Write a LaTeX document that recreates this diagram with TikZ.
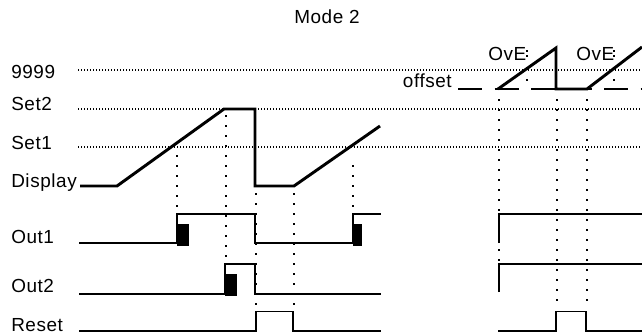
\documentclass[tikz,border=0pt]{standalone}
\usepackage{fontspec}
\setmainfont{Liberation Sans}
\newfontfamily\lblfont[LetterSpace=3]{Liberation Sans}
\begin{document}
\begin{tikzpicture}[x=0.75pt,y=-0.75pt,
  lbl/.style={inner sep=0pt,anchor=base west,font=\lblfont\fontsize{14.2pt}{16pt}\selectfont},
  hdot/.style={line width=0.85pt,dash pattern=on 0.85pt off 1.4pt},
  vdot/.style={line width=1.5pt,dash pattern=on 1.5pt off 6pt},
  disp/.style={line width=2.2pt,line join=miter,line cap=butt},
  sig/.style={line width=0.8pt},
  blk/.style={fill=black,draw=none},
  offdash/.style={line width=0.9pt,dash pattern=on 18pt off 9.4pt}]
\useasboundingbox (0,0) rectangle (642,335);
% labels
\node[lbl,anchor=base] (title) at (327,24) {Mode 2};
\node[lbl] (l9999) at (11,79) {9999};
\node[lbl] (lset2) at (11,110) {Set2};
\node[lbl] (lset1) at (11,149) {Set1};
\node[lbl] (ldisp) at (11,187) {Display};
\node[lbl] (lout1) at (11,243) {Out1};
\node[lbl] (lout2) at (11,292) {Out2};
\node[lbl] (lreset) at (11,331) {Reset};
\node[lbl,anchor=base east] (loff) at (452,88) {offset};
\node[lbl] (ove1) at (488,60.5) {OvE};
\node[lbl] (ove2) at (576,60.5) {OvE};
% horizontal level lines
\draw[hdot] (78,70) -- (642,70);
\draw[hdot] (78,109) -- (642,109);
\draw[hdot] (78,147) -- (642,147);
\draw[offdash] (458,89) -- (642,89);
% vertical dotted markers
\draw[vdot] (177,155) -- (177,212);
\draw[vdot] (226,115) -- (226,262);
\draw[vdot] (256,193) -- (256,309);
\draw[vdot] (294,193) -- (294,309);
\draw[vdot] (353,165) -- (353,212);
\draw[vdot] (499,99) -- (499,262);
\draw[vdot] (557,99) -- (557,309);
\draw[vdot] (587,99) -- (587,309);
\foreach \xx in {527,614} {
  \fill (\xx-0.9,50.2) rectangle (\xx+0.9,52);
  \fill (\xx-0.9,55.2) rectangle (\xx+0.9,57);
  \fill (\xx-0.9,79.2) rectangle (\xx+0.9,81);
}
% display curves
\draw[disp] (80,186) -- (117,186) -- (224,109) -- (255,109) -- (255,186) -- (294,186) -- (380,126);
\draw[disp] (498,89) -- (556,48) -- (556,89) -- (587,89) -- (642,47);
% black blocks
\fill[blk] (177,224) rectangle (189,245.5);
\fill[blk] (225,274) rectangle (237,295.5);
\fill[blk] (353,224) rectangle (361.5,245.5);
% Out1
\draw[sig] (79,243) -- (177,243) -- (177,214) -- (255,214) -- (255,243) -- (353,243) -- (353,214) -- (381,214);
\draw[sig] (499,243) -- (499,214) -- (642,214);
% Out2
\draw[sig] (79,294) -- (225,294) -- (225,264) -- (255,264) -- (255,294) -- (381,294);
\draw[sig] (499,292) -- (499,264) -- (642,264);
% Reset
\draw[sig] (79,331) -- (256,331) -- (256,311.5) -- (293,311.5) -- (293,331) -- (381,331);
\draw[sig] (498,331) -- (556,331) -- (556,311.5) -- (586,311.5) -- (586,331) -- (642,331);
\end{tikzpicture}
\end{document}
